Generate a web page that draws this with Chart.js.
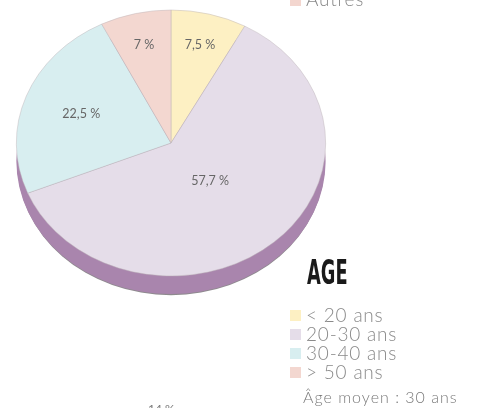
<!DOCTYPE html>
<html lang="fr">
<head>
<meta charset="UTF-8">
<title>Age</title>
<style>
    body {
        margin: 0;
        padding: 0;
        background: #ffffff;
        width: 478px;
        height: 408px;
        overflow: hidden;
        position: relative;
        font-family: 'Lato', sans-serif;
    }
    #pie {
        position: absolute;
        left: 0;
        top: 0;
    }
    .titre {
        position: absolute;
        left: 307px;
        top: 253px;
        font-family: 'Liberation Sans Narrow', 'DejaVu Sans Condensed', sans-serif;
        font-weight: bold;
        font-size: 33px;
        color: #1a1a1a;
        transform: scaleX(0.6);
        transform-origin: left top;
    }
    .legende {
        position: absolute;
        left: 290px;
        top: 305px;
        color: #8a8a8a;
        font-size: 19px;
        font-weight: 300;
        line-height: 19px;
        letter-spacing: 0.8px;
    }
    .legende div { white-space: nowrap; }
    .legende span.carre {
        display: inline-block;
        width: 11px;
        height: 11px;
        margin-right: 5px;
        vertical-align: 1px;
    }
    .autres {
        position: absolute;
        left: 290px;
        top: -13px;
        color: #8a8a8a;
        font-size: 19px;
        font-weight: 300;
        letter-spacing: 0.8px;
    }
    .autres span {
        display: inline-block;
        width: 11px;
        height: 11px;
        margin-right: 5px;
        background: #f3d6cf;
    }
    .moyen {
        position: absolute;
        left: 303px;
        top: 387px;
        color: #7a7a7a;
        font-size: 16px;
        font-weight: 300;
        letter-spacing: 1px;
        white-space: nowrap;
    }
    .bas {
        position: absolute;
        left: 148px;
        top: 401px;
        color: #777;
        font-size: 12px;
    }
</style>
</head>
<body>

<canvas id="pie" width="478" height="408"></canvas>
<div class="autres"><span></span>Autres</div>
<div class="titre">AGE</div>
<div class="legende" id="legende"></div>
<div class="moyen">Âge moyen : 30 ans</div>
<div class="bas">14 %</div>

<script src="https://cdn.jsdelivr.net/npm/chart.js"></script>
<script>
    // données
    const tranches = ['< 20 ans', '20-30 ans', '30-40 ans', '> 50 ans'];
    const valeurs = [7.5, 57.7, 22.5, 7];
    const etiquettes = ['7,5 %', '57,7 %', '22,5 %', '7 %'];
    const couleurs = ['#fdf0c3', '#e5dde9', '#d8eef0', '#f3d7d0'];
    // distance des étiquettes au centre (fraction du rayon)
    const distEtiquette = [0.76, 0.38, 0.62, 0.76];

    // légende
    const leg = document.getElementById('legende');
    tranches.forEach((t, i) => {
        const d = document.createElement('div');
        const c = document.createElement('span');
        c.className = 'carre';
        c.style.background = couleurs[i];
        d.appendChild(c);
        d.appendChild(document.createTextNode(t));
        leg.appendChild(d);
    });

    // écrasement vertical pour l'effet 3D
    const centreY = 143;
    const ry = 133;
    const epaisseur = 18;

    const effet3D = {
        id: 'effet3D',
        beforeDatasetsDraw(chart) {
            const ctx = chart.ctx;
            const arc = chart.getDatasetMeta(0).data[0];
            const cx = arc.x, cy = arc.y, r = arc.outerRadius;
            const sy = ry / r;
            ctx.save();
            ctx.translate(cx, centreY);
            ctx.scale(1, sy);
            ctx.translate(-cx, -cy);
            // tranche du camembert
            ctx.fillStyle = '#8e8a8e';
            ctx.beginPath();
            ctx.arc(cx, cy + (epaisseur + 2) / sy, r - 1, 0, Math.PI * 2);
            ctx.fill();
            ctx.fillStyle = '#a985ad';
            ctx.beginPath();
            ctx.arc(cx, cy + epaisseur / sy, r, 0, Math.PI * 2);
            ctx.fill();
        },
        afterDatasetsDraw(chart) {
            const ctx = chart.ctx;
            ctx.restore();
            const meta = chart.getDatasetMeta(0);
            ctx.save();
            ctx.font = '12.5px Lato, sans-serif';
            ctx.fillStyle = '#666666';
            ctx.textAlign = 'center';
            ctx.textBaseline = 'middle';
            meta.data.forEach((a, i) => {
                const mid = (a.startAngle + a.endAngle) / 2;
                const sy = ry / a.outerRadius;
                const d = a.outerRadius * distEtiquette[i];
                const x = a.x + Math.cos(mid) * d;
                const y = centreY + Math.sin(mid) * d * sy;
                ctx.fillText(etiquettes[i], x, y);
            });
            ctx.restore();
        }
    };

    new Chart(document.getElementById('pie'), {
        type: 'pie',
        data: {
            labels: tranches,
            datasets: [{
                data: valeurs,
                backgroundColor: couleurs,
                borderColor: 'rgba(190,180,185,0.7)',
                borderWidth: 0.7,
                clip: false
            }]
        },
        options: {
            responsive: false,
            animation: false,
            events: [],
            layout: {
                padding: { left: 16, right: 152, top: 0, bottom: 98 }
            },
            plugins: {
                legend: { display: false },
                tooltip: { enabled: false }
            }
        },
        plugins: [effet3D]
    });
</script>
</body>
</html>
